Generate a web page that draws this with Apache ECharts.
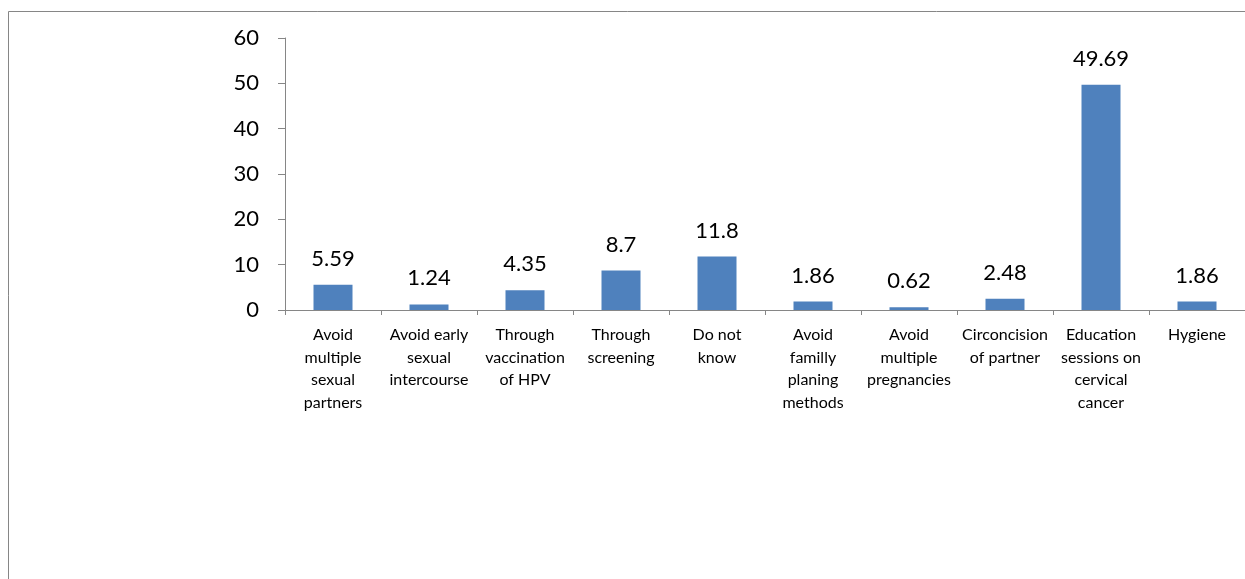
<!DOCTYPE html>
<html>
<head>
<meta charset="utf-8">
<script src="https://cdn.jsdelivr.net/npm/echarts@6/dist/echarts.min.js"></script>
<style>
html,body{margin:0;padding:0;background:#fff;}
#chart{width:1245px;height:579px;}
</style>
</head>
<body>
<div id="chart"></div>
<script>
const categories = [
  "Avoid\nmultiple\nsexual\npartners",
  "Avoid early\nsexual\nintercourse",
  "Through\nvaccination\nof HPV",
  "Through\nscreening",
  "Do not\nknow",
  "Avoid\nfamilly\nplaning\nmethods",
  "Avoid\nmultiple\npregnancies",
  "Circoncision\nof partner",
  "Education\nsessions on\ncervical\ncancer",
  "Hygiene"
];
const values = [5.59, 1.24, 4.35, 8.7, 11.8, 1.86, 0.62, 2.48, 49.69, 1.86];
const yTicks = { min: 0, max: 60, interval: 10 };

const chart = echarts.init(document.getElementById('chart'), null, { renderer: 'canvas' });
const FONT = 'Lato, "Open Sans", sans-serif';
chart.setOption({
  animation: false,
  backgroundColor: '#ffffff',
  graphic: [{
    type: 'rect',
    shape: { x: 8.5, y: 11.5, width: 1400, height: 1000 },
    style: { fill: 'none', stroke: '#868686', lineWidth: 1 },
    silent: true,
    z: -1
  }],
  grid: { left: 285, top: 38, width: 967, bottom: 269, containLabel: false },
  xAxis: {
    type: 'category',
    data: categories,
    boundaryGap: true,
    axisLine: { lineStyle: { color: '#868686', width: 1 } },
    axisTick: { show: true, length: 5, alignWithLabel: false, lineStyle: { color: '#868686' } },
    axisLabel: {
      interval: 0,
      margin: 14,
      color: '#000',
      fontFamily: FONT,
      fontSize: 16,
      lineHeight: 22.5,
      verticalAlign: 'top'
    },
    splitLine: { show: false }
  },
  yAxis: {
    type: 'value',
    min: yTicks.min,
    max: yTicks.max,
    interval: yTicks.interval,
    axisLine: { show: true, lineStyle: { color: '#868686', width: 1 } },
    axisTick: { show: true, length: 7, lineStyle: { color: '#868686' } },
    axisLabel: { margin: 26, color: '#000', fontFamily: FONT, fontSize: 22 },
    splitLine: { show: false }
  },
  series: [{
    type: 'bar',
    data: values,
    barWidth: 39,
    itemStyle: { color: '#4F81BD' },
    label: {
      show: true,
      position: 'top',
      distance: 15,
      color: '#000',
      fontFamily: FONT,
      fontSize: 22
    }
  }]
});
</script>
</body>
</html>
